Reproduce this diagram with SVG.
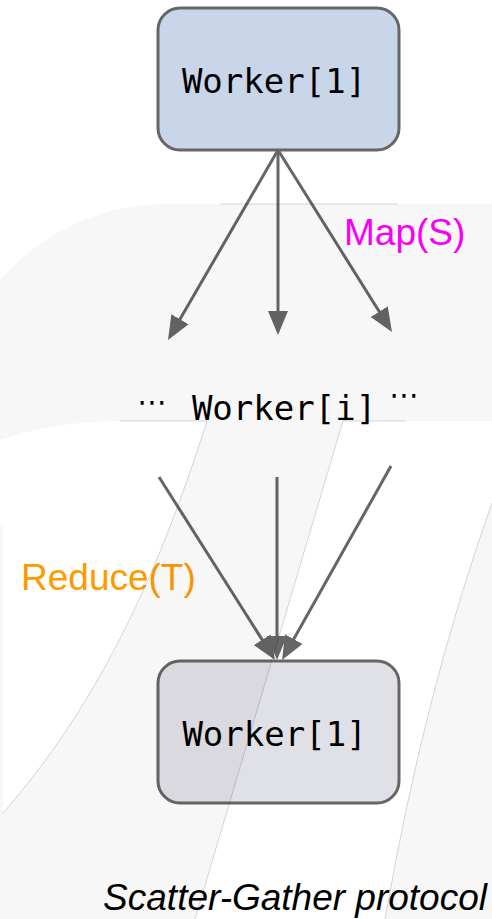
<svg xmlns="http://www.w3.org/2000/svg" width="492" height="919" viewBox="0 0 492 919">
<style>
.node rect{stroke:#666;stroke-width:3}
.mono{font-family:"DejaVu Sans Mono","Liberation Mono",monospace;font-size:34px;fill:#000}
.sans{font-family:"Liberation Sans",Arial,sans-serif;font-size:37px}
.edge{stroke:#666;stroke-width:3;fill:none}
.ov{fill:#000;fill-opacity:0.031;stroke:none}
.ovl{fill:none;stroke:#000;stroke-opacity:0.2;stroke-width:0.8}
</style>
<defs>
<marker id="ah" markerUnits="userSpaceOnUse" markerWidth="26" markerHeight="22" viewBox="0 -11 26 22" refX="12" refY="0" orient="auto">
<path d="M0,-10 L24,0 L0,10 Z" fill="#666"/>
</marker>
</defs>
<rect width="492" height="919" fill="#fff"/>
<g id="node-top" class="node">
<rect x="158" y="8" width="241" height="142" rx="22" fill="#c9d5e8"/>
<text class="mono" x="274" y="93" text-anchor="middle">Worker[1]</text>
</g>
<g id="node-mid">
<text class="mono" x="284" y="420" text-anchor="middle">Worker[i]</text>
<text x="152" y="412" text-anchor="middle" font-family="DejaVu Sans,sans-serif" font-size="29">⋯</text>
<text x="404" y="405" text-anchor="middle" font-family="DejaVu Sans,sans-serif" font-size="29">⋯</text>
</g>
<g id="node-bottom" class="node">
<rect x="158" y="661" width="241" height="142" rx="22" fill="#e0e1e7"/>
<text class="mono" x="274.5" y="746" text-anchor="middle">Worker[1]</text>
</g>
<g id="connectors">
<line class="edge" x1="278" y1="150" x2="174" y2="329.6" marker-end="url(#ah)"/>
<line class="edge" x1="278" y1="150" x2="278" y2="323" marker-end="url(#ah)"/>
<line class="edge" x1="278" y1="150" x2="385.6" y2="321.8" marker-end="url(#ah)"/>
<line class="edge" x1="159" y1="477" x2="268.6" y2="649.9" marker-end="url(#ah)"/>
<line class="edge" x1="277" y1="477" x2="277" y2="648" marker-end="url(#ah)"/>
<line class="edge" x1="391" y1="466" x2="287.9" y2="649.5" marker-end="url(#ah)"/>
</g>
<g id="labels">
<text class="sans" x="344" y="245" fill="#ff00ff">Map(S)</text>
<text class="sans" x="21" y="590" fill="#ff9900">Reduce(T)</text>
<text class="sans" x="487" y="910" text-anchor="end" font-style="italic" fill="#000">Scatter-Gather protocol</text>
</g>
<g id="overlay">
<path class="ov" d="M492,204 L165,204 C90,205 35,240 0,280 L0,440 C30,430 70,421 120,421 L207,421 C175,520 120,680 3,813 L0,815 L0,919 L195,919 L343,421 L492,421 Z"/>
<rect class="ov" x="0" y="525" width="3" height="290"/>
<path class="ov" d="M492,503 Q425,690 385,919 L492,919 Z"/>
<path class="ovl" d="M220,204 L398,204 M120,421 L207,421 C175,520 120,680 3,813 M343,421 L405,421 M343,421 L195,919 M492,503 Q425,690 385,919"/>
</g>
</svg>
